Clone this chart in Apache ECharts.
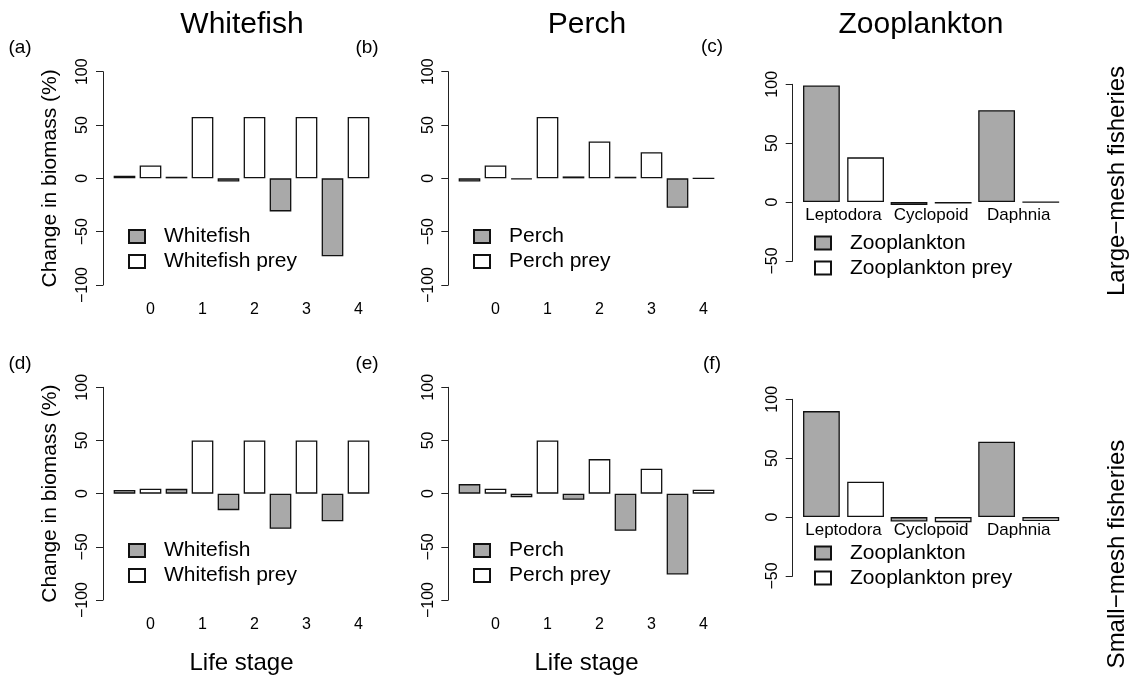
<!DOCTYPE html>
<html>
<head>
<meta charset="utf-8">
<script src="https://cdn.jsdelivr.net/npm/echarts@6/dist/echarts.min.js"></script>
<style>
html,body{margin:0;padding:0;background:#fff;}
#chart{width:1129px;height:679px;}
</style>
</head>
<body>
<div id="chart"></div>
<script>
// ---------- data ----------
const stages = ['0', '1', '2', '3', '4'];
const zooGroups = ['Leptodora', 'Cyclopoid', 'Daphnia'];

// Large-mesh fisheries (top row)
const whitefishLarge     = [2.5, 1.5, -3, -31, -73];
const whitefishPreyLarge = [12, 57.5, 57.5, 57.5, 57.5];
const perchLarge         = [-3, -0.8, 1.8, 1.5, -27.5];
const perchPreyLarge     = [12, 57.5, 34.5, 24.5, 0];
const zooLarge           = [99, -2.5, 78];
const zooPreyLarge       = [38, -1.2, 0];

// Small-mesh fisheries (bottom row)
const whitefishSmall     = [3.5, 4.5, -15.5, -33, -26];
const whitefishPreySmall = [4.7, 50, 50, 50, 50];
const perchSmall         = [9, -3.5, -5.7, -35, -76];
const perchPreySmall     = [4.7, 50, 32.5, 23.5, 3.7];
const zooSmall           = [90, -3.7, 64];
const zooPreySmall       = [30, -4.3, -3.4];

const fishTicks = { min: -100, max: 100, interval: 50 };
const zooTicks  = { min: -50,  max: 100, interval: 50 };

// ---------- styling ----------
const FONT = "'Liberation Sans', Arial, Helvetica, sans-serif";
const GRAY = '#a9a9a9';
const EDGE = '#111111';

const chart = echarts.init(document.getElementById('chart'), null, { renderer: 'canvas' });

const panels = [
  { key: 'a', grid: { left: 111.5, top: 71.7, width: 260, height: 213.3 }, axisOff: 8.5, cats: stages, kind: 'fish',
    s1: 'Whitefish', s2: 'Whitefish prey', d1: whitefishLarge, d2: whitefishPreyLarge, ticks: fishTicks, yName: true, xName: false, legTop: 226 },
  { key: 'b', grid: { left: 456.5, top: 71.7, width: 260, height: 213.3 }, axisOff: 8.2, cats: stages, kind: 'fish',
    s1: 'Perch', s2: 'Perch prey', d1: perchLarge, d2: perchPreyLarge, ticks: fishTicks, yName: false, xName: false, legTop: 226 },
  { key: 'c', grid: { left: 799.7, top: 84.3, width: 262.8, height: 176.7 }, axisOff: 7, cats: zooGroups, kind: 'zoo',
    s1: 'Zooplankton', s2: 'Zooplankton prey', d1: zooLarge, d2: zooPreyLarge, ticks: zooTicks, yName: false, xName: false, legTop: 232.5 },
  { key: 'd', grid: { left: 111.5, top: 387.3, width: 260, height: 212.7 }, axisOff: 8.5, cats: stages, kind: 'fish',
    s1: 'Whitefish', s2: 'Whitefish prey', d1: whitefishSmall, d2: whitefishPreySmall, ticks: fishTicks, yName: true, xName: true, legTop: 540 },
  { key: 'e', grid: { left: 456.5, top: 387.3, width: 260, height: 212.7 }, axisOff: 8.2, cats: stages, kind: 'fish',
    s1: 'Perch', s2: 'Perch prey', d1: perchSmall, d2: perchPreySmall, ticks: fishTicks, yName: false, xName: true, legTop: 540 },
  { key: 'f', grid: { left: 799.7, top: 399.3, width: 262.8, height: 176.7 }, axisOff: 7, cats: zooGroups, kind: 'zoo',
    s1: 'Zooplankton', s2: 'Zooplankton prey', d1: zooSmall, d2: zooPreySmall, ticks: zooTicks, yName: false, xName: false, legTop: 542.5 }
];

const legLeft = { a: 128, b: 473, c: 814, d: 128, e: 473, f: 814 };

const grid = [], xAxis = [], yAxis = [], series = [], legend = [];

panels.forEach((p, i) => {
  grid.push(Object.assign({ containLabel: false }, p.grid));
  const isFish = p.kind === 'fish';
  // zooplankton category labels sit just under the zero line: shift the (invisible) axis up to y = 0
  const zeroShift = isFish ? 0 : -p.grid.height * (0 - p.ticks.min) / (p.ticks.max - p.ticks.min);
  xAxis.push({
    type: 'category', gridIndex: i, data: p.cats, position: 'bottom',
    offset: zeroShift,
    axisLine: { show: false, onZero: false },
    axisTick: { show: false },
    axisLabel: isFish
      ? { interval: 0, margin: 17, fontSize: 16, color: '#000', fontFamily: FONT, padding: [0, 0, 0, 26] }
      : { interval: 0, margin: 5, fontSize: 17, color: '#000', fontFamily: FONT },
    name: p.xName ? 'Life stage' : '',
    nameLocation: 'middle', nameGap: 51,
    nameTextStyle: { fontSize: 24, color: '#000', fontFamily: FONT },
    splitLine: { show: false }
  });
  yAxis.push({
    type: 'value', gridIndex: i,
    min: p.ticks.min, max: p.ticks.max, interval: p.ticks.interval,
    offset: p.axisOff,
    axisLine: { show: true, onZero: false, lineStyle: { color: '#222', width: 1 } },
    axisTick: { show: true, length: 7, lineStyle: { color: '#222', width: 1 } },
    axisLabel: { rotate: 90, fontSize: 16, margin: 12, color: '#000', fontFamily: FONT,
      formatter: v => String(v).replace('-', '\u2212') },
    splitLine: { show: false },
    name: p.yName ? 'Change in biomass (%)' : '',
    nameLocation: 'middle', nameGap: 42,
    nameTextStyle: { fontSize: 21, color: '#000', fontFamily: FONT }
  });
  const bw = isFish ? '41.67%' : '42%';
  series.push({
    type: 'bar', name: p.s1, xAxisIndex: i, yAxisIndex: i, data: p.d1,
    barWidth: bw, barGap: '20%',
    itemStyle: { color: GRAY, borderColor: EDGE, borderWidth: 1.3 },
    emphasis: { disabled: true }, animation: false
  });
  series.push({
    type: 'bar', name: p.s2, xAxisIndex: i, yAxisIndex: i, data: p.d2,
    barWidth: bw, barGap: '20%',
    itemStyle: { color: '#ffffff', borderColor: EDGE, borderWidth: 1.3 },
    emphasis: { disabled: true }, animation: false
  });
  legend.push({
    data: [p.s1, p.s2], orient: 'vertical', left: legLeft[p.key], top: p.legTop,
    padding: 0, itemGap: 4, itemWidth: 16, itemHeight: 13, icon: 'rect',
    selectedMode: false,
    textStyle: { fontSize: 21, lineHeight: 21, color: '#000', fontFamily: FONT, padding: [0, 0, 0, 14] }
  });
});

function txt(text, x, y, size, opts) {
  return Object.assign({
    type: 'text', x: x, y: y, silent: true,
    style: { text: text, fill: '#000', font: size + 'px ' + FONT, textAlign: 'center', textVerticalAlign: 'middle' }
  }, opts || {});
}

const graphic = [
  txt('Whitefish', 242, 25, 30),
  txt('Perch', 587, 25, 30),
  txt('Zooplankton', 921, 25, 30),
  txt('(a)', 20, 48, 19),
  txt('(b)', 367, 48, 19),
  txt('(c)', 712, 47, 19),
  txt('(d)', 20, 364, 19),
  txt('(e)', 367, 364, 19),
  txt('(f)', 712, 364, 19),
  txt('Large\u2212mesh fisheries', 1117, 181, 24, { rotation: Math.PI / 2 }),
  txt('Small\u2212mesh fisheries', 1117, 554, 24, { rotation: Math.PI / 2 })
];

chart.setOption({
  animation: false,
  backgroundColor: '#ffffff',
  textStyle: { fontFamily: FONT },
  grid, xAxis, yAxis, series, legend, graphic
});
</script>
</body>
</html>
